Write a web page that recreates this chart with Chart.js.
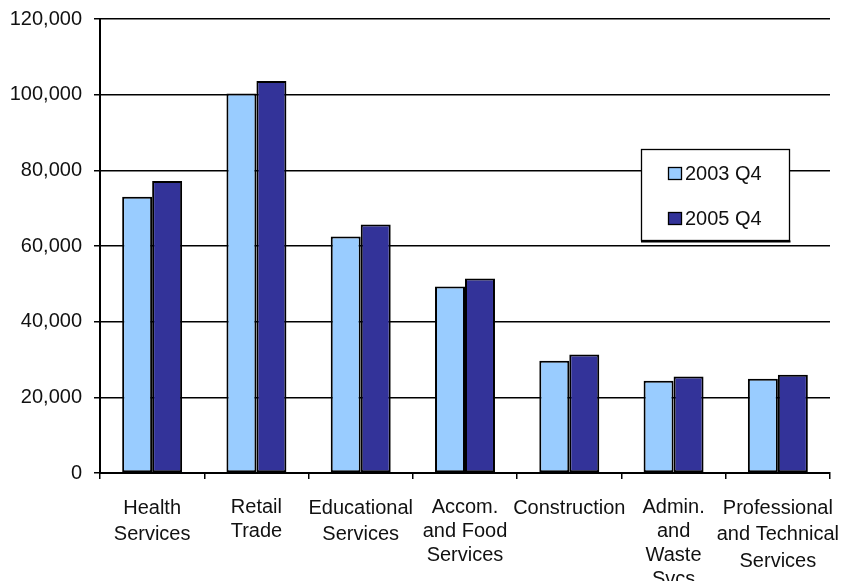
<!DOCTYPE html>
<html>
<head>
<meta charset="utf-8">
<script src="https://cdn.jsdelivr.net/npm/chart.js@4"></script>
<style>
  html, body { margin: 0; padding: 0; background: #fff; }
  canvas { display: block; }
</style>
</head>
<body>
<canvas id="barChart" width="850" height="581"></canvas>
<script>
const industries = [
    ['Health', 'Services'],
    ['Retail', 'Trade'],
    ['Educational', 'Services'],
    ['Accom.', 'and Food', 'Services'],
    ['Construction'],
    ['Admin.', 'and', 'Waste', 'Svcs'],
    ['Professional', 'and Technical', 'Services'],
];
const jobs2003 = [73000, 100300, 62500, 49300, 29700, 24400, 24900];
const jobs2005 = [77200, 103600, 65700, 51400, 31300, 25500, 26000];
const seriesNames = ['2003 Q4', '2005 Q4'];
const seriesColors = ['#99ccff', '#333399'];
const yTicks = { min: 0, max: 120000, step: 20000 };

const fontFamily = '"Liberation Sans", Arial, sans-serif';
const textColor = '#111';
// these wrapped labels are set a little tighter
const tightLabels = [1, 3, 5];

// boxed legend that sits inside the plot, drawn over the gridlines
const boxLegend = {
    id: 'boxLegend',
    afterDatasetsDraw(chart) {
        const ctx = chart.ctx;
        const x = 641, y = 149, w = 148, h = 91;
        ctx.save();
        ctx.fillStyle = '#fff';
        ctx.fillRect(x, y, w, h);
        ctx.strokeStyle = '#000';
        ctx.lineWidth = 1.3;
        ctx.strokeRect(x + 0.5, y + 0.5, w, h);
        ctx.fillStyle = '#000';
        ctx.fillRect(x, y + h + 0.5, w + 1.5, 2);
        ctx.font = '20px ' + fontFamily;
        ctx.textBaseline = 'middle';
        chart.data.datasets.forEach((ds, i) => {
            const rowY = y + 24 + i * 45;
            ctx.fillStyle = ds.backgroundColor;
            ctx.fillRect(x + 27, rowY - 6, 13, 12);
            ctx.strokeStyle = '#000';
            ctx.lineWidth = 1.3;
            ctx.strokeRect(x + 27.5, rowY - 5.5, 13, 12);
            ctx.fillStyle = textColor;
            ctx.fillText(ds.label, x + 44, rowY + 1);
        });
        ctx.restore();
    },
};

new Chart(document.getElementById('barChart'), {
    type: 'bar',
    data: {
        labels: industries,
        datasets: [
            {
                label: seriesNames[0],
                data: jobs2003,
                backgroundColor: seriesColors[0],
                borderColor: '#000',
                borderWidth: 2,
                borderSkipped: false,
            },
            {
                label: seriesNames[1],
                data: jobs2005,
                backgroundColor: seriesColors[1],
                borderColor: '#000',
                borderWidth: 2,
                borderSkipped: false,
            },
        ],
    },
    options: {
        responsive: false,
        animation: false,
        categoryPercentage: 0.575,
        barPercentage: 1,
        layout: { padding: { top: 19, right: 20, left: 0, bottom: 0 } },
        plugins: {
            legend: { display: false },
            tooltip: { enabled: false },
        },
        scales: {
            x: {
                grid: { offset: true, drawOnChartArea: false, color: '#000', tickLength: 6, lineWidth: 1.5 },
                border: { color: '#000', width: 2 },
                ticks: {
                    color: textColor,
                    font: ctx => ({
                        family: fontFamily,
                        size: 20,
                        lineHeight: tightLabels.includes(ctx.index) ? 1.2 : 1.32,
                    }),
                    padding: 16,
                    maxRotation: 0,
                    autoSkip: false,
                },
                afterFit: scale => {
                    scale.height = 108;
                    scale.paddingLeft = 0;
                    scale.paddingRight = 0;
                },
            },
            y: {
                min: yTicks.min,
                max: yTicks.max,
                grid: { color: '#000', tickLength: 6, lineWidth: 1.5 },
                border: { color: '#000', width: 2 },
                ticks: {
                    stepSize: yTicks.step,
                    color: textColor,
                    font: { family: fontFamily, size: 20 },
                    padding: 12,
                    callback: value => value.toLocaleString('en-US'),
                },
                afterFit: scale => {
                    scale.width = 100;
                    scale.paddingTop = 0;
                    scale.paddingBottom = 0;
                },
            },
        },
    },
    plugins: [boxLegend],
});
</script>
</body>
</html>
